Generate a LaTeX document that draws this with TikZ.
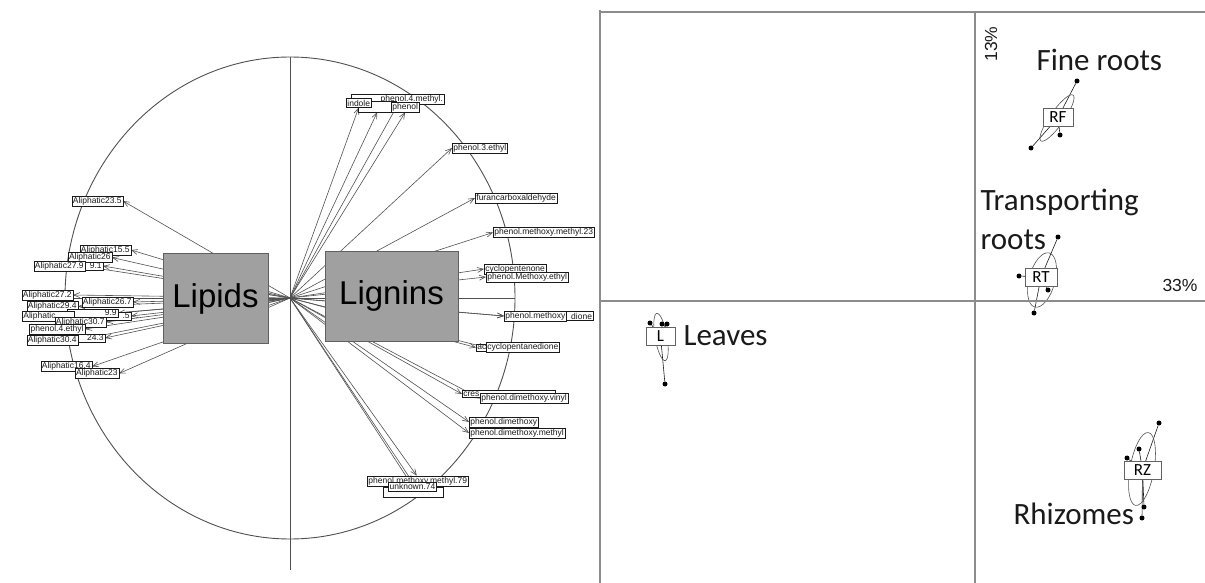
\documentclass[tikz,border=0pt]{standalone}
\usepackage{fontspec}
\setmainfont{Liberation Sans}
\newfontfamily\calibri{Carlito}
\usetikzlibrary{arrows.meta,positioning}
\pgfdeclarelayer{background}
\pgfsetlayers{background,main}
\definecolor{ink}{HTML}{1A1A1A}
\definecolor{rim}{HTML}{505050}
\definecolor{axis}{HTML}{8C8C8C}
\definecolor{slab}{HTML}{A0A0A0}
\tikzset{
  varlab/.style={draw=ink,fill=white,inner sep=1.2pt,font=\fontsize{8.5}{9}\selectfont,text=ink},
  cutlab/.style={varlab,text width=#1,align=right},
  cutlabl/.style={varlab,text width=#1,align=left},
  vec/.style={-{Straight Barb[length=6pt,width=5pt]},line width=0.6pt,draw=rim},
  groupbox/.style={draw=slab!60!black,fill=slab,font=\fontsize{33}{36}\selectfont,text=black,inner sep=0pt,minimum height=90pt},
  classbox/.style={draw=axis!70!black,fill=white,font=\calibri\fontsize{17}{18}\selectfont,inner sep=1pt,minimum height=18pt},
  classname/.style={font=\calibri\fontsize{31}{38}\selectfont,text=ink},
  pct/.style={font=\fontsize{17.5}{19}\selectfont,text=ink},
  dot/.style={circle,fill=black,inner sep=0pt,minimum size=5pt},
  star/.style={line width=0.6pt,draw=ink},
  hull/.style={line width=0.6pt,draw=rim},
  frame/.style={line width=1.2pt,draw=axis},
  axisline/.style={line width=0.9pt,draw=rim}
}

\begin{document}
\begin{tikzpicture}[x=1pt,y=-1pt]
  \useasboundingbox (0,0) rectangle (1205,583);
  \coordinate (o) at (290,298);

  % lignin side
  \node[cutlab=90.6,anchor=west] (pm4) at (351,99.5) {phenol.4.methyl.};
  \node[varlab,minimum width=38pt,minimum height=11pt,anchor=west] (gua) at (358,106.5) {};
  \node[varlab,anchor=west] (indole) at (346,103) {indole};
  \node[varlab,anchor=west] (phenol) at (391,107) {phenol};
  \node[varlab,anchor=west] (pe3) at (452,148) {phenol.3.ethyl};
  \node[varlab,anchor=west] (furan) at (475,198) {furancarboxaldehyde};
  \node[varlab,anchor=west] (pmm23) at (493,232.5) {phenol.methoxy.methyl.23};
  \node[varlab,anchor=west] (cpen) at (484,269) {cyclopentenone};
  \node[varlab,anchor=west] (pme) at (486,277) {phenol.Methoxy.ethyl};
  \node[cutlab=86.6,anchor=west] (dione) at (504,316) {dione};
  \node[varlab,anchor=west] (pmx) at (504,316) {phenol.methoxy};
  \node[cutlabl=50,anchor=west] (acy) at (476,347.5) {ac};
  \node[varlab,anchor=west] (cpd) at (486,347.5) {cyclopentanedione};
  \node[cutlabl=90.6,anchor=west] (cres) at (462,394) {cres};
  \node[varlab,anchor=west] (pdv) at (480,398.5) {phenol.dimethoxy.vinyl};
  \node[varlab,anchor=west] (pdm) at (469,422) {phenol.dimethoxy};
  \node[varlab,anchor=west] (pdmm) at (469,433) {phenol.dimethoxy.methyl};
  \node[varlab,anchor=west] (pmm79) at (367,481) {phenol.methoxy.methyl.79};
  \node[varlab,minimum width=60pt,minimum height=10pt] (fmol) at (413,492) {};
  \node[varlab] (unk) at (412.5,486.5) {unknown.74};

  % lipid side
  \node[varlab,anchor=east] (a235) at (123,201) {Aliphatic23.5};
  \node[varlab,anchor=east] (a155) at (131,250) {Aliphatic15.5};
  \node[cutlab=40.6,anchor=east] (a91) at (103,266) {9.1};
  \node[varlab,anchor=east] (a26) at (112,257.5) {Aliphatic26};
  \node[varlab,anchor=east] (a279) at (85,266.5) {Aliphatic27.9};
  \node[varlab,anchor=east] (a272) at (73,295) {Aliphatic27.2};
  \node[varlab,anchor=east] (a267) at (133,302) {Aliphatic26.7};
  \node[varlab,anchor=east] (a294) at (78,306.5) {Aliphatic29.4};
  \node[cutlab=48,anchor=east] (a285) at (131,316) {.5};
  \node[cutlab=48,anchor=east] (a299) at (118,313) {9.9};
  \node[cutlabl=50,anchor=west] (a28x) at (22,316.5) {Aliphatic};
  \node[varlab,anchor=east] (a307) at (106,322) {Aliphatic30.7};
  \node[varlab,anchor=east] (pe4) at (85,329) {phenol.4.ethyl};
  \node[cutlab=48,anchor=east] (a243) at (105,338) {24.3};
  \node[varlab,anchor=east] (a304) at (78,340) {Aliphatic30.4};
  \node[varlab,anchor=east] (a164) at (92,366.5) {Aliphatic16.4};
  \node[varlab,anchor=east] (a23) at (119,373.5) {Aliphatic23};

  \begin{pgfonlayer}{background}
    \draw[axisline] (o) ellipse [x radius=225,y radius=241];
    \draw[axisline] (290,57) -- (290,570);
    \draw[axisline] (66,298) -- (515,298);
    \foreach \v in {indole.south,gua.south,phenol.south,pm4.south,pe3.west,furan.west,pmm23.west,
        cpen.west,pme.west,dione.west,pmx.west,acy.west,cpd.west,cres.west,pdv.west,pdm.west,
        pdmm.west,pmm79.100,unk.north,fmol.north}
      \draw[vec] (o) -- (\v);
    \foreach \v in {a235,a155,a91,a26,a279,a272,a267,a294,a285,a299,a28x,a307,pe4,a243,a304,a164,a23}
      \draw[vec] (o) -- (\v.east);
  \end{pgfonlayer}

  \node[groupbox,minimum width=105pt] (lipids) at (215.5,298.5) {Lipids};
  \node[groupbox,minimum width=133pt] (lignins) at (391.5,296) {Lignins};

  % factorial map
  \draw[frame] (600,10) -- (600,583);
  \draw[frame] (600,12) -- (1205,12);
  \draw[frame] (975,12) -- (975,583);
  \draw[frame] (600,301) -- (1205,301);

  \node[classbox,minimum width=30pt] (rf) at (1058,117.5) {RF};
  \node[classbox,minimum width=32pt] (rt) at (1041,277) {RT};
  \node[classbox,minimum width=29pt] (lv) at (660.5,336) {L};
  \node[classbox,minimum width=37pt] (rz) at (1142.5,470) {RZ};

  \node[dot] (rf1) at (1077,81) {};
  \node[dot] (rf2) at (1060,135) {};
  \node[dot] (rf3) at (1031,148) {};
  \node[dot] (rt1) at (1058,237) {};
  \node[dot] (rt2) at (1019,276) {};
  \node[dot] (rt3) at (1048,290) {};
  \node[dot] (rt4) at (1034,313) {};
  \node[dot] (lv1) at (650,323) {};
  \node[dot] (lv2) at (662,324) {};
  \node[dot] (lv3) at (667,324) {};
  \node[dot] (lv4) at (665,384) {};
  \node[dot] (rz1) at (1159,423) {};
  \node[dot] (rz2) at (1139,449) {};
  \node[dot] (rz3) at (1127,458) {};
  \node[dot] (rz4) at (1144,507) {};
  \node[dot] (rz5) at (1142,518) {};

  \begin{pgfonlayer}{background}
    \foreach \g/\n in {rf/3,rt/4,lv/4,rz/5}
      \foreach \i in {1,...,\n}
        \draw[star] (\g.center) -- (\g\i);
    \draw[hull,rotate around={55:(1057,118)}] (1057,118) ellipse [x radius=28,y radius=7];
    \draw[hull,rotate around={75:(1042,280)}] (1042,280) ellipse [x radius=28,y radius=13];
    \draw[hull,rotate around={100:(661,337)}] (661,337) ellipse [x radius=24,y radius=6];
    \draw[hull,rotate around={80:(1142,469)}] (1142,469) ellipse [x radius=37,y radius=12];
  \end{pgfonlayer}

  \node[classname,anchor=base west] (fine) at (1033,71) {Fine roots};
  \node[classname,anchor=base west] (trans) at (977,211) {Transporting};
  \node[classname,anchor=base west] (troots) at ([yshift=-38pt]trans.base west) {roots};
  \node[classname,anchor=base west] (leaves) at (680,345) {Leaves};
  \node[classname,anchor=base west] (rhiz) at (1010,524) {Rhizomes};

  \node[pct,rotate=90] (ax2) at (991,44) {13\%};
  \node[pct] (ax1) at (1180,285) {33\%};
\end{tikzpicture}
\end{document}
